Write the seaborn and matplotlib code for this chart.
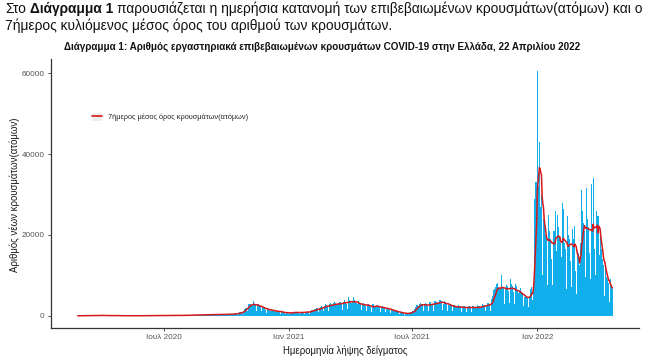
import numpy as np
import pandas as pd
import matplotlib
matplotlib.use("Agg")
import matplotlib.pyplot as plt
from matplotlib.lines import Line2D
from matplotlib.patches import Rectangle
from matplotlib.legend_handler import HandlerLine2D
import seaborn as sns

# ---------------- data (daily confirmed cases) ----------------
start_date = "2020-02-26"
feb2020 = [1, 2, 1, 3]
mar2020 = [1, 3, 4, 6, 10, 15, 20, 20, 16, 25, 35, 40, 50, 60, 45, 50, 60, 70, 80, 90,
           70, 60, 80, 90, 100, 95, 80, 70, 90, 100, 80]
apr2020 = [90, 85, 70, 60, 50, 40, 60, 70, 65, 50, 40, 30, 35, 40, 30, 25, 30, 40, 35, 30,
           150, 60, 40, 30, 20, 15, 20, 25, 15, 15]
may2020 = [15, 10, 8, 12, 15, 12, 10, 8, 10, 12, 15, 10, 8, 6, 10, 12, 15, 10, 8, 10,
           12, 8, 6, 10, 12, 15, 10, 8, 10, 12, 8]
jun2020 = [10, 12, 15, 10, 20, 25, 15, 10, 12, 15, 20, 18, 15, 10, 25, 30, 20, 15, 18, 25,
           30, 20, 15, 25, 30, 35, 28, 20, 25, 30]
jul2020 = [30, 35, 40, 28, 20, 35, 45, 50, 40, 35, 30, 45, 50, 55, 40, 35, 30, 55, 60, 65,
           50, 45, 40, 60, 70, 75, 60, 70, 80, 90, 95]
aug2020 = [110, 70, 120, 130, 140, 150, 130, 120, 80, 160, 170, 180, 200, 190, 170, 100, 210, 230, 240, 250,
           220, 200, 120, 230, 250, 260, 270, 240, 230, 130, 250]
sep2020 = [280, 300, 310, 290, 260, 150, 300, 320, 330, 310, 290, 270, 160, 320, 340, 350, 330, 310, 290, 180,
           340, 360, 350, 340, 320, 300, 190, 350, 370, 380]
oct2020 = [400, 390, 360, 200, 420, 450, 460, 440, 430, 400, 230, 480, 520, 560, 580, 560, 520, 300, 700, 800,
           850, 880, 900, 850, 450, 1300, 1500, 1700, 1900, 2100, 2000]
nov2020 = [1100, 2500, 2800, 2900, 3500, 3000, 2600, 1400, 2800, 3700, 3000, 2900, 2800, 2400, 1300, 2800,
           2900, 2700, 2500, 2300, 2000, 1100, 2200, 2200, 2100, 1900, 1800, 1500, 800, 1700]
dec2020 = [1800, 1700, 1600, 1500, 1300, 700, 1400, 1500, 1400, 1300, 1200, 1000, 550, 1200, 1300, 1200,
           1100, 1050, 900, 500, 1100, 1100, 1000, 900, 500, 600, 400, 1000, 1000, 950, 700]
jan2021 = [400, 600, 400, 1000, 1000, 700, 900, 900, 800, 450, 900, 950, 900, 850, 800, 700, 400, 950,
           1000, 950, 900, 900, 800, 450, 1000, 1100, 1050, 1000, 950, 850, 500]
feb2021 = [1200, 1300, 1400, 1400, 1450, 1300, 700, 1600, 1700, 1800, 1850, 1800, 1600, 900, 1900, 2100,
           2200, 2300, 2200, 2000, 1100, 2500, 2700, 2800, 2600, 2500, 2300, 1200]
mar2021 = [2800, 3000, 3100, 2900, 2800, 2600, 1300, 3100, 3300, 3400, 3200, 3000, 2800, 1400, 3200, 3500,
           3600, 3400, 3200, 2900, 1500, 3400, 4400, 3800, 3300, 3400, 3000, 1600, 3600, 4700, 3900]
apr2021 = [3800, 3600, 3200, 1700, 3400, 4600, 4000, 3700, 3500, 3100, 1600, 3000, 3600, 3400, 3200, 3000,
           2700, 1400, 2800, 3200, 3100, 2900, 2800, 2500, 1300, 2700, 3000, 2900, 2700, 2500]
may2021 = [2200, 900, 1800, 2800, 2900, 2700, 2500, 2300, 1200, 2400, 2700, 2600, 2400, 2300, 2000, 1000,
           2100, 2400, 2300, 2200, 2000, 1800, 900, 1700, 2100, 2000, 1900, 1700, 1500, 700, 1500]
jun2021 = [1600, 1500, 1400, 1300, 1100, 500, 1100, 1200, 1100, 1000, 950, 800, 400, 800, 850, 800, 750,
           700, 600, 300, 550, 650, 650, 650, 700, 650, 350, 750, 900, 1000]
jul2021 = [1200, 1300, 1200, 600, 1700, 2100, 2400, 2600, 2700, 2500, 1300, 2800, 3100, 3200, 3000, 2900,
           2600, 1300, 2900, 3200, 3100, 2900, 2800, 2500, 1200, 2900, 3300, 3400, 3200, 3000, 2700]
aug2021 = [1300, 3100, 3600, 3700, 3500, 3300, 3000, 1400, 3400, 4000, 4100, 3800, 3600, 3200, 1400, 2800,
           3800, 3700, 3400, 3200, 2800, 1300, 2700, 3200, 3000, 2800, 2600, 2300, 1100, 2400, 2700]
sep2021 = [2600, 2500, 2400, 2100, 1000, 2200, 2600, 2500, 2400, 2300, 2000, 1000, 2100, 2500, 2400, 2300,
           2200, 1900, 900, 2100, 2500, 2400, 2300, 2200, 1900, 900, 2000, 2500, 2400, 2300]
oct2021 = [2200, 1900, 900, 2100, 2600, 2500, 2400, 2300, 2000, 1000, 2400, 2900, 2800, 2700, 2600, 2300,
           1100, 2700, 3300, 3200, 3100, 3000, 2600, 1300, 3400, 4200, 4800, 5600, 6400, 6500, 3600]
nov2021 = [7200, 7800, 8000, 7600, 7200, 6500, 3200, 6800, 10000, 7800, 7200, 7000, 6300, 3000, 6900, 8600,
           7600, 7400, 7000, 6200, 3100, 7000, 9200, 7800, 7300, 6800, 6000, 2900, 6500, 7800]
dec2021 = [7300, 6800, 6400, 5600, 2700, 5800, 6800, 6200, 5800, 5300, 4700, 2300, 4700, 5500, 5200, 5000,
           4800, 4300, 2100, 5000, 6300, 6500, 7000, 7500, 4000, 8000, 20000, 29000, 33000, 34000, 33000]
jan2022 = [60500, 21000, 32000, 43000, 31000, 27000, 30000, 22000, 10000, 24000, 23000, 21000, 20000, 19500,
           16000, 7500, 25000, 22000, 21000, 19000, 18000, 14000, 7500, 24000, 21000, 21000, 20000, 26000,
           16000, 8000, 25000]
feb2022 = [22000, 20500, 19500, 18000, 14500, 7500, 27800, 26500, 19000, 18000, 16500, 13000, 6500, 24700,
           22500, 20000, 19000, 17500, 13500, 7000, 24000, 21500, 19000, 17000, 22200, 11000, 5500, 16000]
mar2022 = [16000, 15500, 15000, 12500, 18000, 12000, 31000, 26000, 25000, 23000, 21000, 16000, 9500, 31600,
           26000, 24000, 22000, 20500, 15500, 9000, 32500, 25000, 22000, 34000, 13500, 16500, 10000, 32000,
           26000, 24700, 21000]
apr2022 = [24700, 15000, 8000, 20000, 16500, 15500, 14000, 12500, 9500, 5000, 13000, 10500, 9500, 9000,
           8000, 6500, 3500, 9000, 7500, 7000, 6500]

tick_dates = ["2020-07-01", "2021-01-01", "2021-07-01", "2022-01-01"]
tick_labels = ["Ιουλ 2020", "Ιαν 2021", "Ιουλ 2021", "Ιαν 2022"]
y_ticks = [0, 20000, 40000, 60000]

intro_parts = ["Στο", "Διάγραμμα 1",
               "παρουσιάζεται η ημερήσια κατανομή των επιβεβαιωμένων κρουσμάτων(ατόμων) και ο"]
intro_line2 = "7ήμερος κυλιόμενος μέσος όρος του αριθμού των κρουσμάτων."
title = "Διάγραμμα 1: Αριθμός εργαστηριακά επιβεβαιωμένων κρουσμάτων COVID-19 στην Ελλάδα, 22 Απριλίου 2022"
legend_label = "7ήμερος μέσος όρος κρουσμάτων(ατόμων)"
x_label = "Ημερομηνία λήψης δείγματος"
y_label = "Αριθμός νέων κρουσμάτων(ατόμων)"

# ---------------- build frame ----------------
values = np.concatenate([feb2020, mar2020, apr2020, may2020, jun2020, jul2020, aug2020, sep2020,
                         oct2020, nov2020, dec2020, jan2021, feb2021, mar2021, apr2021, may2021,
                         jun2021, jul2021, aug2021, sep2021, oct2021, nov2021, dec2021, jan2022,
                         feb2022, mar2022, apr2022]).astype(float)
dates = pd.date_range(start_date, periods=len(values), freq="D")
df = pd.DataFrame({"date": dates, "cases": values})
df["ma7"] = df["cases"].rolling(7, min_periods=1).mean()

BLUE = "#10AEEA"
RED = "#D7191C"
DARK = "#1a1a1a"

sns.set_theme(style="ticks")
plt.rcParams["font.family"] = ["Liberation Sans", "DejaVu Sans"]

W, H = 650, 358
fig = plt.figure(figsize=(W / 100, H / 100), dpi=100)
ax = fig.add_axes([51 / W, 1 - 328 / H, 588 / W, 269 / H])

ax.bar(df["date"], df["cases"], width=1.0, color=BLUE, linewidth=0, align="center")
sns.lineplot(data=df, x="date", y="ma7", ax=ax, color=RED, lw=1.1, legend=False)

# ggplot-like 5% expansion
span = df["date"].iloc[-1] - df["date"].iloc[0]
ax.set_xlim(df["date"].iloc[0] - span * 0.05, df["date"].iloc[-1] + span * 0.05)
ymax = df["cases"].max()
ax.set_ylim(-ymax * 0.05, ymax * 1.05)

ax.set_xticks(pd.to_datetime(tick_dates))
ax.set_xticklabels(tick_labels)
ax.set_yticks(y_ticks)
ax.set_yticklabels([str(v) for v in y_ticks])

for s in ["top", "right"]:
    ax.spines[s].set_visible(False)
for s in ["left", "bottom"]:
    ax.spines[s].set_linewidth(0.9)
    ax.spines[s].set_color("#333333")
ax.tick_params(axis="both", length=2.5, width=0.6, color="#333333", labelsize=5.9,
               labelcolor="#555555", pad=2)

ax.set_xlabel(x_label, fontsize=6.9, color=DARK)
ax.set_ylabel(y_label, fontsize=6.9, color=DARK)
ax.xaxis.set_label_coords(0.5, -0.065)
ax.yaxis.set_label_coords(-0.052, 0.494)


class KeyHandler(HandlerLine2D):
    """ggplot-style legend key: light grey box behind the line."""
    def create_artists(self, legend, orig_handle, xdescent, ydescent, width, height, fontsize, trans):
        arts = super().create_artists(legend, orig_handle, xdescent, ydescent, width, height,
                                      fontsize, trans)
        box = Rectangle((-xdescent, -ydescent), width, height, facecolor="#EDEDED",
                        edgecolor="none", transform=trans)
        return [box] + list(arts)


key_line = Line2D([], [], color=RED, lw=1.2)
ax.legend(handles=[key_line], labels=[legend_label], handler_map={key_line: KeyHandler()},
          loc="center left", bbox_to_anchor=(0.058, 0.784), frameon=False,
          handlelength=1.35, handleheight=1.3, handletextpad=0.9, prop={"size": 5.3})

# ---------------- texts ----------------
fig.text(322 / W, 1 - 47 / H, title, fontsize=7.1, fontweight="bold", ha="center", va="center",
         color="#111111")

r = fig.canvas.get_renderer()
FS = 9.9
def width_of(s, w):
    t = fig.text(0, 0, s, fontsize=FS, fontweight=w)
    bb = t.get_window_extent(r).width
    t.remove()
    return bb
space_w = width_of("a a", "normal") - width_of("aa", "normal")
x = 5.0
y1 = 1 - 9 / H
for i, s in enumerate(intro_parts):
    w = "bold" if i == 1 else "normal"
    t = fig.text(x / W, y1, s, fontsize=FS, fontweight=w, ha="left", va="center", color="#111111")
    x += t.get_window_extent(r).width + space_w
fig.text(5 / W, 1 - 26 / H, intro_line2, fontsize=FS, ha="left", va="center", color="#111111")

fig.savefig("out.png", dpi=100)
